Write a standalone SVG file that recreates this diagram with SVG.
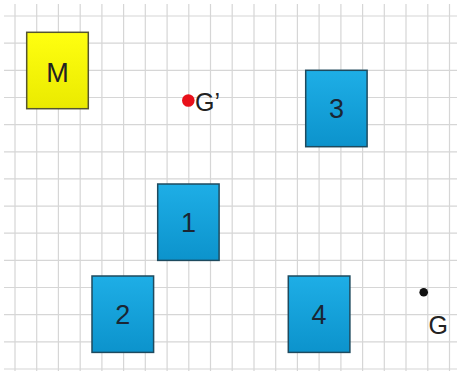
<svg xmlns="http://www.w3.org/2000/svg" width="457" height="371" viewBox="0 0 457 371">
<defs>
<linearGradient id="blue" x1="0" y1="0" x2="0" y2="1">
<stop offset="0" stop-color="#1eaee6"/>
<stop offset="1" stop-color="#0c93cc"/>
</linearGradient>
<linearGradient id="yellow" x1="0" y1="0" x2="0" y2="1">
<stop offset="0" stop-color="#ffff10"/>
<stop offset="1" stop-color="#eaea00"/>
</linearGradient>
</defs>
<style>
.grid line{stroke:#d6d6d6;stroke-width:1.2}
.box{stroke:#1e4a5e;stroke-width:1.5;fill:url(#blue)}
.ybox{stroke:#555530;stroke-width:1.5;fill:url(#yellow)}
.lbl{font-family:"Liberation Sans",Arial,sans-serif;font-size:27px;fill:#1a2633;text-anchor:middle}
.pt{font-family:"Liberation Sans",Arial,sans-serif;font-size:25px;fill:#222}
</style>
<rect width="457" height="371" fill="#ffffff"/>
<g class="grid">
<line x1="15" y1="4" x2="15" y2="371"/>
<line x1="36.7" y1="4" x2="36.7" y2="371"/>
<line x1="58.4" y1="4" x2="58.4" y2="371"/>
<line x1="80.2" y1="4" x2="80.2" y2="371"/>
<line x1="101.9" y1="4" x2="101.9" y2="371"/>
<line x1="123.6" y1="4" x2="123.6" y2="371"/>
<line x1="145.3" y1="4" x2="145.3" y2="371"/>
<line x1="167.1" y1="4" x2="167.1" y2="371"/>
<line x1="188.8" y1="4" x2="188.8" y2="371"/>
<line x1="210.5" y1="4" x2="210.5" y2="371"/>
<line x1="232.2" y1="4" x2="232.2" y2="371"/>
<line x1="254" y1="4" x2="254" y2="371"/>
<line x1="275.7" y1="4" x2="275.7" y2="371"/>
<line x1="297.4" y1="4" x2="297.4" y2="371"/>
<line x1="319.1" y1="4" x2="319.1" y2="371"/>
<line x1="340.9" y1="4" x2="340.9" y2="371"/>
<line x1="362.6" y1="4" x2="362.6" y2="371"/>
<line x1="384.3" y1="4" x2="384.3" y2="371"/>
<line x1="406" y1="4" x2="406" y2="371"/>
<line x1="427.8" y1="4" x2="427.8" y2="371"/>
<line x1="449.5" y1="4" x2="449.5" y2="371"/>
<line x1="4" y1="16" x2="457" y2="16"/>
<line x1="4" y1="43.2" x2="457" y2="43.2"/>
<line x1="4" y1="70.3" x2="457" y2="70.3"/>
<line x1="4" y1="97.5" x2="457" y2="97.5"/>
<line x1="4" y1="124.6" x2="457" y2="124.6"/>
<line x1="4" y1="151.8" x2="457" y2="151.8"/>
<line x1="4" y1="178.9" x2="457" y2="178.9"/>
<line x1="4" y1="206.1" x2="457" y2="206.1"/>
<line x1="4" y1="233.2" x2="457" y2="233.2"/>
<line x1="4" y1="260.4" x2="457" y2="260.4"/>
<line x1="4" y1="287.5" x2="457" y2="287.5"/>
<line x1="4" y1="314.7" x2="457" y2="314.7"/>
<line x1="4" y1="341.8" x2="457" y2="341.8"/>
<line x1="4" y1="369" x2="457" y2="369"/>
</g>
<g id="M">
<rect class="ybox" x="26.7" y="32.3" width="61.6" height="76.4"/>
<text class="lbl" x="57.5" y="82" style="fill:#222">M</text>
</g>
<g id="box3">
<rect class="box" x="305.7" y="70.3" width="61.4" height="76.4"/>
<text class="lbl" x="336.4" y="118">3</text>
</g>
<g id="box1">
<rect class="box" x="157.7" y="184" width="61.4" height="76.4"/>
<text class="lbl" x="188.4" y="232">1</text>
</g>
<g id="box2">
<rect class="box" x="92" y="276" width="61.6" height="76.4"/>
<text class="lbl" x="122.8" y="324">2</text>
</g>
<g id="box4">
<rect class="box" x="288.3" y="276" width="61.6" height="76.4"/>
<text class="lbl" x="319.1" y="324">4</text>
</g>
<g id="Gprime">
<circle cx="188.3" cy="100.5" r="6.3" fill="#e8101a"/>
<text class="pt" x="195" y="111">G’</text>
</g>
<g id="G">
<circle cx="423.7" cy="292.3" r="4.3" fill="#111"/>
<text class="pt" x="428.5" y="334">G</text>
</g>
<g id="connectors"/>
</svg>
